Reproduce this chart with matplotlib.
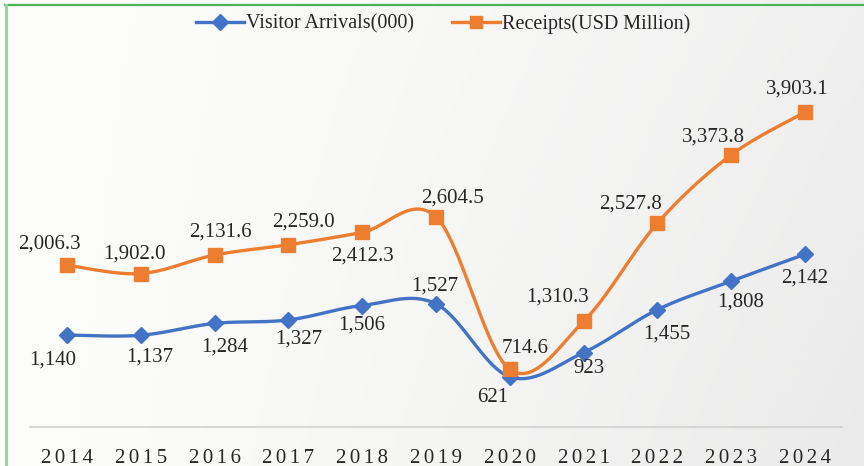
import numpy as np
import matplotlib
matplotlib.use("Agg")
import matplotlib.pyplot as plt
from matplotlib.lines import Line2D

years = ["2014", "2015", "2016", "2017", "2018", "2019", "2020", "2021", "2022", "2023", "2024"]
arrivals = [1140, 1137, 1284, 1327, 1506, 1527, 621, 923, 1455, 1808, 2142]
receipts = [2006.3, 1902.0, 2131.6, 2259.0, 2412.3, 2604.5, 714.6, 1310.3, 2527.8, 3373.8, 3903.1]
arrivals_labels = ["1,140", "1,137", "1,284", "1,327", "1,506", "1,527", "621", "923", "1,455", "1,808", "2,142"]
receipts_labels = ["2,006.3", "1,902.0", "2,131.6", "2,259.0", "2,412.3", "2,604.5", "714.6", "1,310.3", "2,527.8", "3,373.8", "3,903.1"]

# label offsets (pixels) relative to markers
arr_off = [(-14, -25), (9, -22), (10, -24), (10, -19), (-1, -20), (-1, 18), (-17, -21), (5, -16), (9, -24), (9, -21), (0, -24)]
rec_off = [(-17, 21), (-6, 20), (6, 23), (15, 23), (0, -24), (16, 19), (15, 21), (-26, 24), (-27, 19), (-18, 18), (-8, 23)]

plt.rcParams['font.family'] = ['Liberation Serif', 'DejaVu Serif']
TXT = '#262626'
BLUE = '#4472C4'
ORANGE = '#ED7D31'

fig = plt.figure(figsize=(8.64, 4.66), dpi=100)

# background gradient
bg = fig.add_axes([0, 0, 1, 1], zorder=-10)
nx, ny = 200, 100
xx, yy = np.meshgrid(np.linspace(0, 1, nx), np.linspace(0, 1, ny))
v = 253 - 13 * xx ** 1.4 - 6 * yy * xx
r = v
g = v
b = v - 2 * (1 - xx)
img = np.dstack([r, g, b]) / 255.0
bg.imshow(np.clip(img, 0, 1), aspect='auto', extent=[0, 1, 0, 1], origin='upper')
bg.set_axis_off()

# green frame lines
fig.add_artist(Line2D([5 / 864, 1], [1 - 5 / 466, 1 - 5 / 466], color='#4cb35a', lw=1.6, transform=fig.transFigure))
fig.add_artist(Line2D([6 / 864, 6 / 864], [0, 1 - 5 / 466], color='#98d69e', lw=2.2, transform=fig.transFigure))

ax = fig.add_axes([30 / 864, (466 - 427) / 466, 812 / 864, 363 / 466])
ax.patch.set_alpha(0)
x = np.arange(len(years))


def smooth(xs, ys, n=40):
    P = np.column_stack([xs, ys]).astype(float)
    m = len(P)
    out = []
    for i in range(m - 1):
        p0 = P[i - 1] if i > 0 else P[i]
        p1 = P[i]
        p2 = P[i + 1]
        p3 = P[i + 2] if i + 2 < m else P[i + 1]
        c1 = p1 + (p2 - p0) / 6
        c2 = p2 - (p3 - p1) / 6
        t = np.linspace(0, 1, n)[:, None]
        seg = (1 - t) ** 3 * p1 + 3 * (1 - t) ** 2 * t * c1 + 3 * (1 - t) * t ** 2 * c2 + t ** 3 * p2
        out.append(seg if i == 0 else seg[1:])
    s = np.vstack(out)
    return s[:, 0], s[:, 1]


sx, sy = smooth(x, arrivals)
ax.plot(sx, sy, color=BLUE, lw=2.4, solid_capstyle='round', zorder=3)
ax.plot(x, arrivals, ls='none', marker='D', ms=8.5, color=BLUE, zorder=4)
sx, sy = smooth(x, receipts)
ax.plot(sx, sy, color=ORANGE, lw=2.4, solid_capstyle='round', zorder=3)
ax.plot(x, receipts, ls='none', marker='s', ms=10, color=ORANGE, zorder=4)

for i in range(len(x)):
    ax.annotate(arrivals_labels[i], (x[i], arrivals[i]), xytext=arr_off[i], textcoords='offset pixels',
                ha='center', va='center', fontsize=15, color=TXT, zorder=5)
    ax.annotate(receipts_labels[i], (x[i], receipts[i]), xytext=rec_off[i], textcoords='offset pixels',
                ha='center', va='center', fontsize=15, color=TXT, zorder=5)

ax.set_xlim(-0.5, len(years) - 0.5)
ax.set_ylim(0, 4500)
ax.set_yticks([])
ax.set_xticks(x)
ax.set_xticklabels(["\u2006".join(y) for y in years], fontsize=15, color=TXT)
ax.tick_params(axis='x', length=0, pad=15.5)
for s in ['top', 'right', 'left']:
    ax.spines[s].set_visible(False)
ax.spines['bottom'].set_color('#d0d0d0')
ax.spines['bottom'].set_linewidth(1.2)

handles = [Line2D([], [], color=BLUE, lw=2.4, marker='D', ms=8),
           Line2D([], [], color=ORANGE, lw=2.4, marker='s', ms=9)]
fig.legend(handles, ["Visitor Arrivals(000)", "Receipts(USD Million)"], loc='center',
           bbox_to_anchor=(443 / 864, 1 - 24 / 466), ncol=2, frameon=False, fontsize=14.5,
           handlelength=2.4, handletextpad=0.1, columnspacing=1.85, labelcolor=TXT)

fig.savefig('out.png', dpi=100)
